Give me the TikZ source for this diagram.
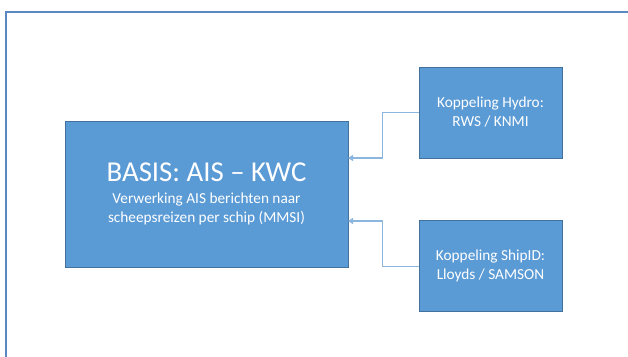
\documentclass[tikz,border=0pt]{standalone}
\usepackage{fontspec}
\setmainfont{Carlito}
\usepackage{xcolor}
\usetikzlibrary{arrows.meta,positioning}
\definecolor{boxblue}{HTML}{5B9BD5}
\definecolor{boxedge}{HTML}{41719C}
\definecolor{linkblue}{HTML}{8CB5E0}
\definecolor{frameblue}{HTML}{5B87C2}

\begin{document}
\begin{tikzpicture}[
    x=1pt, y=-1pt,
    >={Triangle[length=5pt,width=6pt]},
    blok/.style={rectangle, draw=boxedge, line width=0.8pt, fill=boxblue,
                 text=white, align=center, inner sep=0pt},
    hoofd/.style={blok, minimum width=283pt, minimum height=146pt,
                  font=\fontsize{15.3}{19}\selectfont},
    koppel/.style={blok, minimum width=143pt, minimum height=91pt,
                   font=\fontsize{15.3}{19}\selectfont},
    conn/.style={->, draw=linkblue, line width=1.2pt}
]
\useasboundingbox (0,0) rectangle (628,356);

% outer frame, runs off the page on the right and at the bottom
\draw[frameblue, line width=1.6pt] (6,362) |- (634,12);

% main block
\node[hoofd] (basis) at (206.5,194)
  {{\fontsize{28.8}{30}\selectfont BASIS: AIS – KWC}\\[3pt]
   Verwerking AIS berichten naar\\scheepsreizen per schip (MMSI)};

% coupled sources on the right
\node[koppel] (hydro) at (490.5,112.5) {Koppeling Hydro:\\RWS / KNMI};
\node[koppel, below=62pt of hydro] (shipid) {Koppeling ShipID:\\Lloyds / SAMSON};

% inputs into the main block
\coordinate (inHydro) at (348,158);
\coordinate (inShip)  at (348,221);
\draw[conn] (hydro.west)  -- ++(-36,0) |- (inHydro);
\draw[conn] (shipid.west) -- ++(-36,0) |- (inShip);
\end{tikzpicture}
\end{document}
